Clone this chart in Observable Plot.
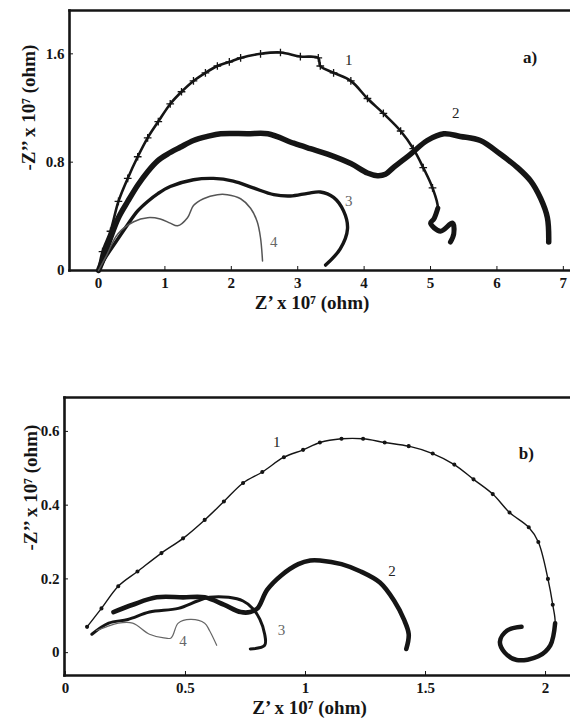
<!DOCTYPE html>
<html>
<head>
<meta charset="utf-8">
<script src="https://cdn.jsdelivr.net/npm/d3@7"></script>
<script src="https://cdn.jsdelivr.net/npm/@observablehq/plot@0.6"></script>
<style>
  html, body { margin: 0; padding: 0; background: white; }
  #chart svg { display: block; }
</style>
</head>
<body>
<div id="chart"></div>
<script>
// ---------- Panel a) data ----------
const a1X = [0, 0.06, 0.18, 0.30, 0.44, 0.59, 0.74, 0.90, 1.08, 1.25, 1.43, 1.61, 1.79, 1.97, 2.14, 2.44, 2.74, 3.04, 3.31, 3.34, 3.54, 3.80, 4.05, 4.29, 4.55, 4.74, 4.89, 5.03, 5.11, 5.05, 5.00, 5.15, 5.33, 5.35, 5.30];
const a1Y = [0, 0.14, 0.29, 0.51, 0.68, 0.84, 0.98, 1.10, 1.23, 1.32, 1.40, 1.46, 1.51, 1.54, 1.57, 1.60, 1.61, 1.58, 1.57, 1.51, 1.46, 1.40, 1.27, 1.16, 1.03, 0.90, 0.76, 0.61, 0.46, 0.38, 0.35, 0.29, 0.35, 0.27, 0.21];
const a2X = [0, 0.08, 0.18, 0.30, 0.44, 0.59, 0.74, 0.89, 1.04, 1.23, 1.43, 1.64, 1.84, 2.24, 2.55, 2.94, 3.19, 3.45, 3.80, 4.05, 4.20, 4.32, 4.44, 4.70, 4.95, 5.20, 5.45, 5.75, 6.05, 6.31, 6.51, 6.66, 6.76, 6.78];
const a2Y = [0, 0.10, 0.24, 0.39, 0.51, 0.63, 0.73, 0.81, 0.86, 0.91, 0.96, 0.99, 1.01, 1.01, 1.01, 0.94, 0.90, 0.86, 0.79, 0.72, 0.70, 0.71, 0.76, 0.86, 0.96, 1.01, 0.99, 0.96, 0.86, 0.76, 0.66, 0.53, 0.39, 0.21];
const a3X = [0, 0.11, 0.26, 0.44, 0.59, 0.74, 0.90, 1.08, 1.43, 1.73, 2.03, 2.33, 2.64, 2.89, 3.15, 3.34, 3.54, 3.69, 3.75, 3.64, 3.42];
const a3Y = [0, 0.10, 0.21, 0.34, 0.44, 0.51, 0.57, 0.62, 0.67, 0.68, 0.66, 0.61, 0.56, 0.55, 0.57, 0.58, 0.54, 0.44, 0.31, 0.16, 0.04];
const a4X = [0, 0.11, 0.29, 0.53, 0.74, 0.93, 1.08, 1.19, 1.34, 1.43, 1.58, 1.79, 1.94, 2.14, 2.29, 2.39, 2.44, 2.47];
const a4Y = [0, 0.10, 0.27, 0.36, 0.39, 0.38, 0.35, 0.33, 0.39, 0.48, 0.53, 0.56, 0.56, 0.53, 0.46, 0.36, 0.24, 0.07];
const aLabels = ["1", "2", "3", "4"];
const aLabelX = [3.77, 5.38, 3.77, 2.64];
const aLabelY = [1.55, 1.16, 0.51, 0.21];
const aTicksX = [0, 1, 2, 3, 4, 5, 6, 7];
const aTicksY = [0, 0.8, 1.6];

// ---------- Panel b) data ----------
const b1X = [0.09, 0.15, 0.22, 0.30, 0.40, 0.49, 0.58, 0.66, 0.74, 0.82, 0.91, 0.99, 1.06, 1.15, 1.24, 1.33, 1.43, 1.53, 1.62, 1.70, 1.78, 1.85, 1.93, 1.97, 2.01, 2.03, 2.04, 2.02, 1.97, 1.88, 1.83, 1.81, 1.84, 1.90];
const b1Y = [0.07, 0.12, 0.18, 0.22, 0.27, 0.31, 0.36, 0.41, 0.46, 0.49, 0.53, 0.55, 0.57, 0.58, 0.58, 0.57, 0.56, 0.54, 0.51, 0.47, 0.43, 0.38, 0.34, 0.30, 0.20, 0.13, 0.08, 0.02, -0.01, -0.02, 0.00, 0.03, 0.06, 0.07];
const b2X = [0.20, 0.28, 0.38, 0.49, 0.58, 0.66, 0.73, 0.77, 0.80, 0.84, 0.90, 0.97, 1.02, 1.06, 1.15, 1.23, 1.31, 1.37, 1.41, 1.43, 1.42];
const b2Y = [0.11, 0.13, 0.15, 0.15, 0.15, 0.13, 0.11, 0.11, 0.12, 0.17, 0.21, 0.24, 0.25, 0.25, 0.24, 0.22, 0.19, 0.14, 0.09, 0.05, 0.01];
const b3X = [0.11, 0.18, 0.26, 0.35, 0.47, 0.55, 0.60, 0.68, 0.74, 0.78, 0.81, 0.83, 0.83, 0.77];
const b3Y = [0.05, 0.08, 0.09, 0.11, 0.12, 0.14, 0.15, 0.15, 0.14, 0.12, 0.09, 0.05, 0.02, 0.01];
const b4X = [0.13, 0.17, 0.22, 0.28, 0.35, 0.41, 0.44, 0.47, 0.52, 0.58, 0.60, 0.63];
const b4Y = [0.06, 0.07, 0.08, 0.08, 0.05, 0.04, 0.04, 0.08, 0.09, 0.08, 0.06, 0.02];
const bLabels = ["1", "2", "3", "4"];
const bLabelX = [0.88, 1.36, 0.90, 0.49];
const bLabelY = [0.57, 0.22, 0.06, 0.03];
const bTicksX = [0, 0.5, 1, 1.5, 2];
const bTicksY = [0, 0.2, 0.4, 0.6];

const xTitle = "Z’ x 10⁷ (ohm)";
const yTitle = "-Z’’ x 10⁷ (ohm)";

const pts = (xs, ys) => xs.map((x, i) => ({x, y: ys[i]}));
const FONT = "'Liberation Serif', 'DejaVu Serif', serif";
const INK = "#151515";

function panel({width, height, mt, mb, ml, xDom, yDom, series, hook, markers, markerSymbol, markerR,
                labels, lx, ly, tag, tagX, tagY, ticksX, ticksY, fmtX, fmtY, yTitleDx, yTitleDy, xTitleDx, xTitleDy}) {
  const marks = [
    Plot.frame({anchor: "left", strokeWidth: 2.6, stroke: INK}),
    Plot.frame({anchor: "top", strokeWidth: 2.6, stroke: INK}),
    Plot.frame({anchor: "bottom", strokeWidth: 2.6, stroke: INK}),
    Plot.axisX({ticks: ticksX, tickFormat: fmtX, tickSize: -4, tickPadding: 11, fontSize: 15, fontWeight: "bold", label: null, stroke: INK, fill: INK}),
    Plot.axisY({ticks: ticksY, tickFormat: fmtY, tickSize: -4, tickPadding: 9, fontSize: 15, fontWeight: "bold", label: null, stroke: INK, fill: INK}),
  ];
  for (const s of series) {
    marks.push(Plot.line(s.data, {x: "x", y: "y", stroke: s.color, strokeWidth: s.w, curve: "catmull-rom", strokeLinecap: "round", strokeLinejoin: "round"}));
  }
  if (hook) marks.push(Plot.line(hook.data, {x: "x", y: "y", stroke: INK, strokeWidth: hook.w, curve: "catmull-rom", strokeLinecap: "round"}));
  if (markers) marks.push(Plot.dot(markers, {x: "x", y: "y", symbol: markerSymbol, r: markerR, stroke: INK, strokeWidth: 1.3, fill: INK}));
  const lab = labels.map((t, i) => ({t, x: lx[i], y: ly[i]}));
  marks.push(Plot.text(lab.slice(0, 2), {x: "x", y: "y", text: "t", fill: "#222", fontSize: 15, fontFamily: FONT}));
  marks.push(Plot.text(lab.slice(2), {x: "x", y: "y", text: "t", fill: "#666", fontSize: 15, fontFamily: FONT}));
  marks.push(Plot.text([tag], {x: () => tagX, y: () => tagY, text: d => d, fontSize: 17, fontWeight: "bold", fill: INK}));
  marks.push(Plot.text([xTitle], {frameAnchor: "bottom", text: d => d, dy: xTitleDy, dx: xTitleDx, fontSize: 19, fontWeight: "bold", fill: INK}));
  marks.push(Plot.text([yTitle], {frameAnchor: "left", text: d => d, rotate: -90, dx: yTitleDx, dy: yTitleDy, fontSize: 19, fontWeight: "bold", fill: INK}));
  return Plot.plot({
    width, height, marginTop: mt, marginBottom: mb, marginLeft: ml, marginRight: 0,
    x: {domain: xDom}, y: {domain: yDom},
    style: {fontFamily: FONT, background: "white", color: INK},
    marks
  });
}

const a1 = pts(a1X, a1Y);
const b1 = pts(b1X, b1Y);
const plotA = panel({
  width: 570, height: 320, mt: 10, mb: 50, ml: 69,
  xDom: [-0.437, 7.108], yDom: [0, 1.92],
  series: [
    {data: a1, color: INK, w: 2.6},
    {data: pts(a2X, a2Y), color: INK, w: 5.5},
    {data: pts(a3X, a3Y), color: INK, w: 3.4},
    {data: pts(a4X, a4Y), color: "#555", w: 1.5}
  ],
  hook: {data: a1.slice(28), w: 5},
  markers: a1.slice(1, 28), markerSymbol: "plus", markerR: 2.6,
  labels: aLabels, lx: aLabelX, ly: aLabelY,
  tag: "a)", tagX: 6.5, tagY: 1.57,
  ticksX: aTicksX, ticksY: aTicksY, fmtX: d => String(d), fmtY: d => String(d),
  yTitleDx: -41, yTitleDy: 30, xTitleDx: -8, xTitleDy: 38
});
const plotB = panel({
  width: 570, height: 402, mt: 77, mb: 47, ml: 64,
  xDom: [-0.004, 2.104], yDom: [-0.062, 0.692],
  series: [
    {data: b1, color: INK, w: 1.4},
    {data: pts(b2X, b2Y), color: INK, w: 4.6},
    {data: pts(b3X, b3Y), color: INK, w: 3},
    {data: pts(b4X, b4Y), color: "#666", w: 1.2}
  ],
  hook: {data: b1.slice(26), w: 4.5},
  markers: b1.slice(0, 26), markerSymbol: "circle", markerR: 1.4,
  labels: bLabels, lx: bLabelX, ly: bLabelY,
  tag: "b)", tagX: 1.92, tagY: 0.54,
  ticksX: bTicksX, ticksY: bTicksY, fmtX: d => String(d), fmtY: d => String(d),
  yTitleDx: -34, yTitleDy: 14, xTitleDx: -8, xTitleDy: 38
});
const root = document.getElementById("chart");
root.appendChild(plotA);
root.appendChild(plotB);
</script>
</body>
</html>
